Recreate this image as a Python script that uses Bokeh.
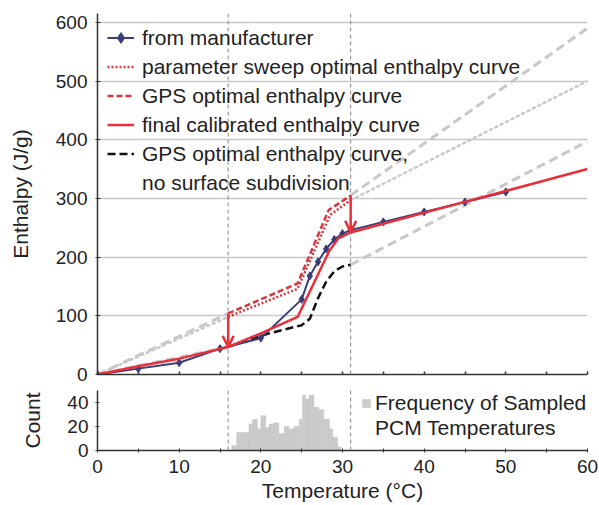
from bokeh.plotting import figure
from bokeh.models import (Range1d, FixedTicker, Legend, LegendItem, Span, Arrow,
                          OpenHead, ColumnDataSource)
from bokeh.layouts import column
from bokeh.embed import file_html
from bokeh.resources import INLINE

# ---------------- data ----------------
mfr_T = [0, 5, 10, 15, 20, 25, 26, 27, 28, 29, 30, 31, 35, 40, 45, 50]
mfr_H = [0, 10, 20, 44, 62, 128, 168, 192, 214, 230, 240, 246, 260, 277, 294, 311]

sweep_T = [16, 24.5, 28.5, 31]
sweep_H = [98, 146, 272, 297]

gps_T = [16, 24.5, 28.3, 31]
gps_H = [104, 155, 280, 305]

final_T = [0, 5, 10, 16, 20, 24.5, 28.4, 29.5, 31, 60]
final_H = [0, 14, 27, 47, 70, 98, 211, 232, 242, 350]

nosub_T = [16, 21, 25, 26, 27, 28, 29, 30, 31]
nosub_H = [47, 70, 84, 95, 130, 158, 176, 184, 187]

# gray extrapolations (two segments each: below 16 and above 31 C)
ext_gps_T = [[0, 16], [31, 60]]
ext_gps_H = [[0, 104], [305, 590]]
ext_sweep_T = [[0, 16], [31, 60]]
ext_sweep_H = [[0, 98], [297, 500]]
ext_nosub_T = [[0, 16], [31, 60]]
ext_nosub_H = [[0, 47], [187, 397]]

# calibration arrows
arrow_T = [16, 31]
arrow_from = [104, 305]
arrow_to = [47, 243]

bounds_T = [16, 31]

# histogram of sampled PCM temperatures
bin_edges = [16.45, 17.05, 18.55, 19.0, 19.6, 20.0, 20.6, 21.0, 21.6, 22.2, 22.85,
             23.45, 24.05, 24.7, 25.1, 25.5, 25.9, 26.5, 27.1, 27.7, 28.4, 28.8,
             29.4, 29.8]
counts = [4, 15, 22, 26, 18, 29, 19, 22, 23, 14, 20, 18, 20, 26, 46, 43, 46, 36,
          34, 26, 18, 11, 3]

x_ticks = [0, 10, 20, 30, 40, 50, 60]
x_minor = [5, 15, 25, 35, 45, 55]
x_all = [0, 5, 10, 15, 20, 25, 30, 35, 40, 45, 50, 55, 60]
h_ticks = [0, 100, 200, 300, 400, 500, 600]
c_ticks = [0, 20, 40]

# ---------------- style ----------------
FONT = "Liberation Sans"
NAVY = "#3b3d78"
RED = "#e8303a"
RED2 = "#d9363f"
GRAY = "#c8c8c8"
AX = "#333333"

xr = Range1d(0, 60)

p = figure(frame_width=490, frame_height=361, x_range=xr, y_range=Range1d(0, 615),
           output_backend="svg", toolbar_location=None,
           min_border_left=97, min_border_right=12, min_border_top=13,
           min_border_bottom=12)
p.outline_line_color = None
p.xgrid.grid_line_color = None
p.ygrid.grid_line_color = GRAY
p.ygrid.grid_line_width = 1.5
p.ygrid.ticker = FixedTicker(ticks=h_ticks)

p.yaxis.ticker = FixedTicker(ticks=h_ticks)
p.yaxis.axis_label = "Enthalpy (J/g)"
# bottom axis of the upper panel: tick marks only, no labels
p.xaxis.ticker = FixedTicker(ticks=[], minor_ticks=x_all)
p.xaxis.major_label_standoff = 0
for ax in (p.xaxis[0], p.yaxis[0]):
    ax.axis_line_color = AX
    ax.axis_line_width = 1.5
    ax.major_tick_line_color = AX
    ax.minor_tick_line_color = AX
    ax.major_tick_in = 3
    ax.major_tick_out = 2
    ax.minor_tick_in = 3
    ax.minor_tick_out = 0
    ax.major_label_text_font = FONT
    ax.major_label_text_color = "#222222"
    ax.axis_label_text_font = FONT
    ax.axis_label_text_font_style = "normal"
    ax.axis_label_text_font_size = "21px"
    ax.axis_label_text_color = "#222222"
p.xaxis.minor_tick_line_width = 1.5
p.yaxis.major_label_text_font_size = "19px"
p.yaxis.major_label_standoff = 8
p.yaxis.axis_label_standoff = 21
p.yaxis.minor_tick_line_color = None

# gray extrapolations
p.multi_line(ext_gps_T, ext_gps_H, line_color=GRAY, line_width=3, line_dash="9 5")
p.multi_line(ext_sweep_T, ext_sweep_H, line_color=GRAY, line_width=2.5, line_dash="2 4",
             line_cap="round")
p.multi_line(ext_nosub_T, ext_nosub_H, line_color=GRAY, line_width=3, line_dash="9 5")

for t in bounds_T:
    p.add_layout(Span(location=t, dimension="height", line_color="#888888",
                      line_width=1, line_dash="4 3"))

r_nosub = p.line(nosub_T, nosub_H, line_color="#111111", line_width=2.5, line_dash="8 4")
r_sweep = p.line(sweep_T, sweep_H, line_color=RED2, line_width=2.5, line_dash="2 2")
r_gps = p.line(gps_T, gps_H, line_color=RED2, line_width=2.5, line_dash="6 3")
r_mfr = p.line(mfr_T, mfr_H, line_color=NAVY, line_width=2)
r_mfr_pts = p.scatter(mfr_T, mfr_H, marker="diamond", size=8, fill_color=NAVY,
                      line_color=NAVY)
r_final = p.line(final_T, final_H, line_color=RED, line_width=2.5)
r_blank = p.line([], [], line_alpha=0)

asrc = ColumnDataSource(dict(x0=arrow_T, y0=arrow_from, x1=arrow_T, y1=arrow_to))
p.add_layout(Arrow(source=asrc, x_start="x0", y_start="y0", x_end="x1", y_end="y1",
                   line_color=RED, line_width=2.5,
                   end=OpenHead(size=11, line_color=RED, line_width=2.5)))

leg = Legend(items=[
    LegendItem(label="from manufacturer", renderers=[r_mfr, r_mfr_pts]),
    LegendItem(label="parameter sweep optimal enthalpy curve", renderers=[r_sweep]),
    LegendItem(label="GPS optimal enthalpy curve", renderers=[r_gps]),
    LegendItem(label="final calibrated enthalpy curve", renderers=[r_final]),
    LegendItem(label="GPS optimal enthalpy curve,", renderers=[r_nosub]),
    LegendItem(label="no surface subdivision", renderers=[r_blank]),
], location="top_left")
leg.margin = 10
leg.padding = 10
leg.spacing = 0
leg.glyph_width = 27
leg.glyph_height = 29
leg.label_height = 29
leg.label_standoff = 8
leg.label_text_font = FONT
leg.label_text_font_size = "21px"
leg.label_text_color = "#222222"
leg.border_line_color = None
leg.background_fill_alpha = 0
p.add_layout(leg, "center")

# ---------------- histogram ----------------
h = figure(frame_width=490, frame_height=60, x_range=xr, y_range=Range1d(0, 50),
           output_backend="svg", toolbar_location=None,
           min_border_left=97, min_border_right=12, min_border_top=4,
           min_border_bottom=55)
h.outline_line_color = None
h.grid.grid_line_color = None
r_hist = h.quad(left=bin_edges[:-1], right=bin_edges[1:], bottom=0, top=counts,
                fill_color="#cbcbcb", line_color="#c4c4c4", line_width=0.5)
r_hblank = h.line([], [], line_alpha=0)
for t in bounds_T:
    h.add_layout(Span(location=t, dimension="height", line_color="#888888",
                      line_width=1, line_dash="4 3"))
h.xaxis.ticker = FixedTicker(ticks=x_ticks, minor_ticks=x_minor)
h.yaxis.ticker = FixedTicker(ticks=c_ticks)
h.xaxis.axis_label = "Temperature (\u00b0C)"
h.yaxis.axis_label = "Count"
for ax in (h.xaxis[0], h.yaxis[0]):
    ax.axis_line_color = AX
    ax.axis_line_width = 1.5
    ax.major_tick_line_color = AX
    ax.minor_tick_line_color = AX
    ax.major_tick_in = 2
    ax.major_tick_out = 2
    ax.minor_tick_in = 2
    ax.minor_tick_out = 2
    ax.major_label_text_font = FONT
    ax.major_label_text_font_size = "19px"
    ax.major_label_text_color = "#222222"
    ax.axis_label_text_font = FONT
    ax.axis_label_text_font_style = "normal"
    ax.axis_label_text_font_size = "21px"
    ax.axis_label_text_color = "#222222"
h.yaxis.minor_tick_line_color = None
h.yaxis.major_label_standoff = 7
h.yaxis.axis_label_standoff = 20
h.xaxis.major_label_standoff = 7
h.xaxis.axis_label_standoff = 3

hleg = Legend(items=[LegendItem(label="Frequency of Sampled", renderers=[r_hist]),
                     LegendItem(label="PCM Temperatures", renderers=[r_hblank])],
              location=(264, 10))
hleg.margin = 0
hleg.padding = 0
hleg.spacing = 0
hleg.glyph_width = 10
hleg.glyph_height = 10
hleg.label_height = 25
hleg.label_standoff = 4
hleg.label_text_font = FONT
hleg.label_text_font_size = "21px"
hleg.label_text_color = "#222222"
hleg.border_line_color = None
hleg.background_fill_alpha = 0
h.add_layout(hleg, "center")

layout = column(p, h, spacing=0)
open("out.html", "w").write(file_html(layout, INLINE))
